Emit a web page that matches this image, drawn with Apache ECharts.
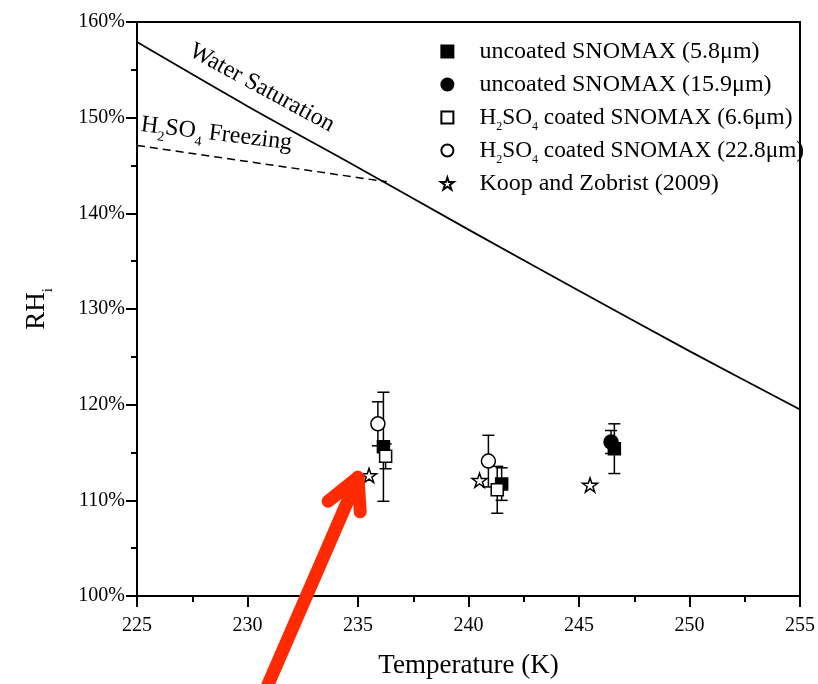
<!DOCTYPE html>
<html>
<head>
<meta charset="utf-8">
<script src="https://cdn.jsdelivr.net/npm/echarts@6/dist/echarts.min.js"></script>
<style>
html,body{margin:0;padding:0;background:#fff;}
#c{width:818px;height:684px;}
</style>
</head>
<body>
<div id="c"></div>
<script>
// ---- data ----
const xTicks = [225, 230, 235, 240, 245, 250, 255];
const yTicks = [100, 110, 120, 130, 140, 150, 160];

const satT  = [225, 230, 235, 240, 245, 250, 255];
const satRH = [157.9, 151.2, 144.8, 138.3, 131.9, 125.6, 119.5];

const frzT  = [225, 236.3];
const frzRH = [147.1, 143.3];

const unc58T   = [236.15, 241.5, 246.6];
const unc58RH  = [115.6, 111.7, 115.4];
const unc58Err = [5.7, 1.7, 2.6];

const unc159T   = [246.45];
const unc159RH  = [116.1];
const unc159Err = [1.2];

const coat66T   = [236.25, 241.3];
const coat66RH  = [114.6, 111.1];
const coat66Err = [1.3, 2.45];

const coat228T   = [235.9, 240.9];
const coat228RH  = [118.0, 114.1];
const coat228Err = [2.3, 2.7];

const koopT  = [235.5, 240.5, 245.5];
const koopRH = [112.6, 112.1, 111.6];

const names = [
  'uncoated SNOMAX (5.8μm)',
  'uncoated SNOMAX (15.9μm)',
  'H2SO4 coated SNOMAX (6.6μm)',
  'H2SO4 coated SNOMAX (22.8μm)',
  'Koop and Zobrist (2009)'
];

// ---- helpers ----
const FONT = "'Liberation Serif','Times New Roman',serif";
const STAR = 'path://M50,2 L61.2,36.2 L97.6,36.2 L68.2,57.4 L79.4,91.6 L50,70.4 L20.6,91.6 L31.8,57.4 L2.4,36.2 L38.8,36.2 Z';
const SQUARE = 'path://M0,0 L10,0 L10,10 L0,10 Z';
const zip = (a, b) => a.map((v, i) => [v, b[i]]);
const zip3 = (a, b, c) => a.map((v, i) => [v, b[i], c[i]]);

function richName(n) {
  if (n.indexOf('H2SO4') === 0) {
    return '{b|H}{s|2}{b|SO}{s|4}{b|' + n.slice(5) + '}';
  }
  return '{a|' + n + '}';
}

function errSeries(T, RH, E) {
  return {
    type: 'custom',
    silent: true,
    z: 1,
    data: zip3(T, RH, E),
    renderItem: function (params, api) {
      const x = api.value(0), y = api.value(1), e = api.value(2);
      const t = api.coord([x, y + e]);
      const b = api.coord([x, y - e]);
      const hw = 6;
      const st = { stroke: '#000', lineWidth: 1.5 };
      return {
        type: 'group',
        children: [
          { type: 'line', shape: { x1: t[0], y1: t[1], x2: b[0], y2: b[1] }, style: st },
          { type: 'line', shape: { x1: t[0] - hw, y1: t[1], x2: t[0] + hw, y2: t[1] }, style: st },
          { type: 'line', shape: { x1: b[0] - hw, y1: b[1], x2: b[0] + hw, y2: b[1] }, style: st }
        ]
      };
    }
  };
}

function scat(name, T, RH, symbol, size, fill) {
  return {
    name: name,
    type: 'scatter',
    z: 3,
    symbol: symbol,
    symbolSize: size,
    symbolKeepAspect: true,
    data: zip(T, RH),
    itemStyle: { color: fill, borderColor: '#000', borderWidth: 1.5, opacity: 1 },
    emphasis: { disabled: true }
  };
}

const subRich = { color: '#000', fill: '#000', fontFamily: FONT, fontSize: 12, lineHeight: 1, padding: [18, 0, 0, 0] };

const chart = echarts.init(document.getElementById('c'), null, { renderer: 'canvas' });

const option = {
  animation: false,
  backgroundColor: '#fff',
  grid: {
    left: 137, right: 16, top: 22, bottom: 88,
    show: true, borderColor: '#000', borderWidth: 2
  },
  legend: {
    orient: 'vertical',
    left: 440,
    top: 35,
    padding: 0,
    itemWidth: 54,
    itemHeight: 12,
    itemGap: 0,
    selectedMode: false,
    data: names,
    formatter: richName,
    textStyle: {
      color: '#000', fontFamily: FONT, fontSize: 24, lineHeight: 33,
      rich: {
        a: { color: '#000', fontFamily: FONT, fontSize: 24, lineHeight: 33 },
        b: { color: '#000', fontFamily: FONT, fontSize: 23.3, lineHeight: 33 },
        s: subRich
      }
    }
  },
  xAxis: {
    type: 'value',
    min: xTicks[0], max: xTicks[xTicks.length - 1], interval: 5,
    name: 'Temperature (K)',
    nameLocation: 'middle',
    nameGap: 56,
    nameTextStyle: { color: '#000', fontFamily: FONT, fontSize: 27 },
    axisLine: { onZero: false, lineStyle: { color: '#000', width: 2 } },
    axisTick: { length: 11, lineStyle: { color: '#000', width: 2 } },
    minorTick: { show: true, splitNumber: 2, length: 6, lineStyle: { color: '#000', width: 2 } },
    splitLine: { show: false },
    axisLabel: { color: '#000', fontFamily: FONT, fontSize: 20, margin: 20 }
  },
  yAxis: {
    type: 'value',
    min: yTicks[0], max: yTicks[yTicks.length - 1], interval: 10,
    name: '{a|RH}{s|i}',
    nameLocation: 'middle',
    nameGap: 86,
    nameRotate: 90,
    nameTextStyle: {
      color: '#000', fontFamily: FONT, fontSize: 27,
      rich: {
        a: { color: '#000', fontFamily: FONT, fontSize: 27, lineHeight: 28 },
        s: { color: '#000', fontFamily: FONT, fontSize: 15, lineHeight: 1, padding: [22, 0, 0, 0] }
      }
    },
    axisLine: { onZero: false, lineStyle: { color: '#000', width: 2 } },
    axisTick: { length: 11, lineStyle: { color: '#000', width: 2 } },
    minorTick: { show: true, splitNumber: 2, length: 6, lineStyle: { color: '#000', width: 2 } },
    splitLine: { show: false },
    axisLabel: { color: '#000', fontFamily: FONT, fontSize: 20, margin: 12, formatter: '{value}%' }
  },
  series: [
    {
      type: 'line', name: 'Water Saturation', data: zip(satT, satRH),
      smooth: 0.3, symbol: 'none', silent: true, z: 2,
      lineStyle: { color: '#000', width: 1.8 }
    },
    {
      type: 'line', name: 'H2SO4 Freezing', data: zip(frzT, frzRH),
      symbol: 'none', silent: true, z: 2,
      lineStyle: { color: '#000', width: 1.5, type: [8, 5] }
    },
    errSeries(unc58T, unc58RH, unc58Err),
    errSeries(unc159T, unc159RH, unc159Err),
    errSeries(coat66T, coat66RH, coat66Err),
    errSeries(coat228T, coat228RH, coat228Err),
    scat(names[0], unc58T, unc58RH, SQUARE, 12, '#000'),
    scat(names[1], unc159T, unc159RH, 'circle', 14, '#000'),
    scat(names[2], coat66T, coat66RH, SQUARE, 12, '#fff'),
    scat(names[3], coat228T, coat228RH, 'circle', 14, '#fff'),
    scat(names[4], koopT, koopRH, STAR, 15, '#fff')
  ]
};

chart.setOption(option);

// ---- annotations anchored to data coordinates ----
const px = (t, r) => chart.convertToPixel({ gridIndex: 0 }, [t, r]);
const wsPos = px(230.65, 153.1);
const fzPos = px(228.6, 148.3);
const tip = px(235.0, 112.4);
const tail = px(230.6, 89.0);
const armL = px(233.65, 109.9);
const armR = px(235.1, 108.8);
const RED = '#ff2a00';

chart.setOption({
  graphic: [
    {
      type: 'text', x: wsPos[0], y: wsPos[1], rotation: -28.5 * Math.PI / 180, z: 10,
      style: { text: 'Water Saturation', fill: '#000', font: '24px ' + FONT, align: 'center', verticalAlign: 'middle' }
    },
    {
      type: 'text', x: fzPos[0], y: fzPos[1], rotation: -7 * Math.PI / 180, z: 10,
      style: {
        text: '{a|H}{s|2}{a|SO}{s|4}{a| Freezing}',
        align: 'center', verticalAlign: 'middle',
        rich: {
          a: { fill: '#000', fontFamily: FONT, fontSize: 24, lineHeight: 26 },
          s: { fill: '#000', fontFamily: FONT, fontSize: 14, lineHeight: 1, padding: [20, 0, 0, 0] }
        }
      }
    },
    {
      type: 'line', z: 20, silent: true,
      shape: { x1: tail[0], y1: tail[1], x2: tip[0], y2: tip[1] },
      style: { stroke: RED, lineWidth: 13, lineCap: 'round' }
    },
    {
      type: 'polyline', z: 20, silent: true,
      shape: { points: [armL, tip, armR] },
      style: { stroke: RED, lineWidth: 13, lineCap: 'round', lineJoin: 'round', fill: null }
    }
  ]
});
</script>
</body>
</html>
